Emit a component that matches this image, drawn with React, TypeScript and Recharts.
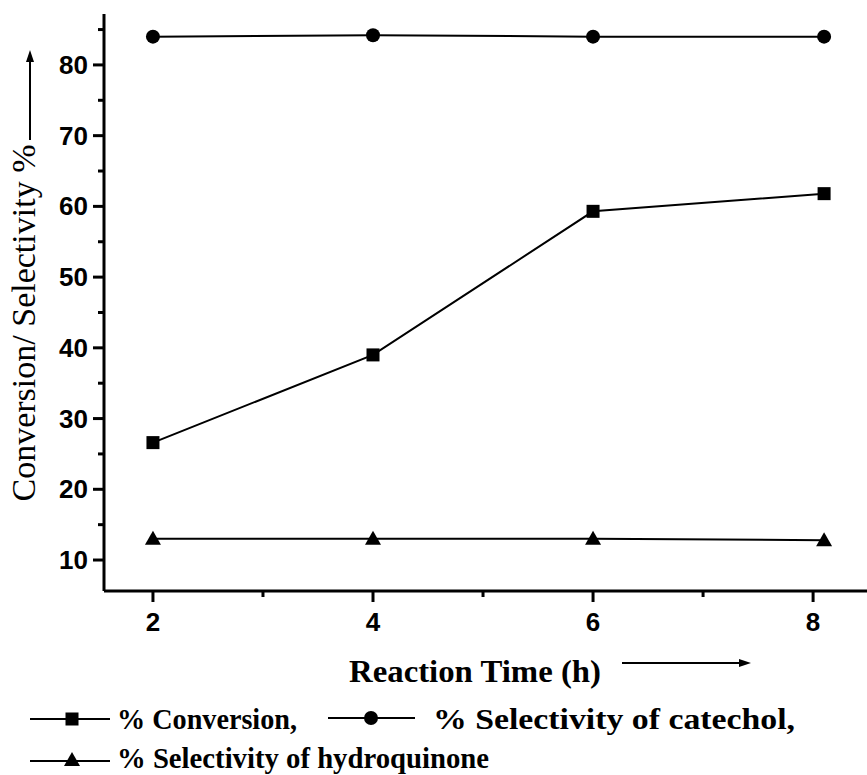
import { LineChart, Line, XAxis, YAxis, Legend, Label } from 'recharts'

const times = [2, 4, 6, 8.1]
const conversion = [26.6, 39, 59.3, 61.8]
const catechol = [84, 84.2, 84, 84]
const hydroquinone = [13, 13, 13, 12.8]

const xTicks = [2, 3, 4, 5, 6, 7, 8]
const yTicks = [10, 15, 20, 25, 30, 35, 40, 45, 50, 55, 60, 65, 70, 75, 80, 85]

const seriesNames = ['% Conversion,', '% Selectivity of catechol,', '% Selectivity of hydroquinone']

const data = times.map((t, i) => ({
  time: t,
  conversion: conversion[i],
  catechol: catechol[i],
  hydroquinone: hydroquinone[i],
}))

const SERIF = '"Liberation Serif", "Times New Roman", serif'
const SANS = '"Liberation Sans", Arial, sans-serif'

const Square = ({ cx, cy }: any) => <rect x={cx - 6.5} y={cy - 6.5} width={13} height={13} fill="#000" />
const Circle = ({ cx, cy }: any) => <circle cx={cx} cy={cy} r={7} fill="#000" />
const Triangle = ({ cx, cy }: any) => (
  <polygon points={`${cx},${cy - 8} ${cx - 8},${cy + 6} ${cx + 8},${cy + 6}`} fill="#000" />
)

const XTick = ({ x, y, payload }: any) => {
  const major = payload.value % 2 === 0
  return (
    <g>
      <line x1={x} x2={x} y1={y} y2={y + (major ? 11 : 6)} stroke="#000" strokeWidth={3} />
      {major && (
        <text x={x} y={y + 40} textAnchor="middle" fontFamily={SANS} fontWeight="bold" fontSize={26} fill="#000">
          {payload.value}
        </text>
      )}
    </g>
  )
}

const YTick = ({ x, y, payload }: any) => {
  const major = payload.value % 10 === 0
  return (
    <g>
      <line x1={x} x2={x - (major ? 11 : 6)} y1={y} y2={y} stroke="#000" strokeWidth={3} />
      {major && (
        <text x={x - 16} y={y + 9} textAnchor="end" fontFamily={SANS} fontWeight="bold" fontSize={26} fill="#000">
          {payload.value}
        </text>
      )}
    </g>
  )
}

const YLabel = () => (
  <g>
    <text
      x={35}
      y={323}
      transform="rotate(-90 35 323)"
      textAnchor="middle"
      fontFamily={SERIF}
      fontSize={34}
      fill="#000"
    >
      Conversion/ Selectivity %
    </text>
    <line x1={30} x2={30} y1={140} y2={60} stroke="#000" strokeWidth={2} />
    <polygon points="30,50 26,62 34,62" fill="#000" />
  </g>
)

const XLabel = () => (
  <g>
    <text x={349} y={682} fontFamily={SERIF} fontWeight="bold" fontSize={31} textLength={252} lengthAdjust="spacingAndGlyphs" fill="#000">
      Reaction Time (h)
    </text>
    <line x1={622} x2={740} y1={663} y2={663} stroke="#000" strokeWidth={2} />
    <polygon points="751,663 739,659 739,667" fill="#000" />
  </g>
)

// legend drawn as svg; the zero-height wrapper keeps it out of the layout
const LegendContent = () => (
  <div style={{ height: 0, overflow: 'visible' }}>
    <svg width={867} height={85} style={{ display: 'block' }}>
      <g fontFamily={SERIF} fontWeight="bold" fontSize={30} fill="#000">
        <line x1={30} x2={110} y1={29} y2={29} stroke="#000" strokeWidth={2} />
        <Square cx={72} cy={29} />
        <text x={117} y={39} textLength={180} lengthAdjust="spacingAndGlyphs">{seriesNames[0]}</text>
        <line x1={328} x2={415} y1={28} y2={28} stroke="#000" strokeWidth={2} />
        <Circle cx={371} cy={28} />
        <text x={433} y={39} textLength={362} lengthAdjust="spacingAndGlyphs">{seriesNames[1]}</text>
        <line x1={30} x2={110} y1={71} y2={71} stroke="#000" strokeWidth={2} />
        <Triangle cx={72} cy={70} />
        <text x={117} y={78} textLength={372} lengthAdjust="spacingAndGlyphs">{seriesNames[2]}</text>
      </g>
    </svg>
  </div>
)

export default function App() {
  return (
    <div style={{ position: 'absolute', left: 0, top: 0, background: '#fff' }}>
      <LineChart width={867} height={775} data={data} margin={{ top: 14, right: 0, bottom: 0, left: 0 }}>
        <XAxis
          dataKey="time"
          type="number"
          domain={[1.555, 8.49]}
          ticks={xTicks}
          allowDataOverflow
          height={184}
          tickSize={0}
          tickMargin={0}
          tick={<XTick />}
          axisLine={{ stroke: '#000', strokeWidth: 3 }}
        >
          <Label content={<XLabel />} />
        </XAxis>
        <YAxis
          type="number"
          domain={[5.62, 87.2]}
          ticks={yTicks}
          allowDataOverflow
          width={104}
          tickSize={0}
          tickMargin={0}
          tick={<YTick />}
          axisLine={{ stroke: '#000', strokeWidth: 3 }}
        >
          <Label content={<YLabel />} />
        </YAxis>
        <Legend
          verticalAlign="top"
          content={<LegendContent />}
          wrapperStyle={{ top: 690, left: 0, width: 867 }}
        />
        <Line dataKey="conversion" name={seriesNames[0]} stroke="#000" strokeWidth={2} dot={<Square />} isAnimationActive={false} />
        <Line dataKey="catechol" name={seriesNames[1]} stroke="#000" strokeWidth={2} dot={<Circle />} isAnimationActive={false} />
        <Line dataKey="hydroquinone" name={seriesNames[2]} stroke="#000" strokeWidth={2} dot={<Triangle />} isAnimationActive={false} />
      </LineChart>
    </div>
  )
}
